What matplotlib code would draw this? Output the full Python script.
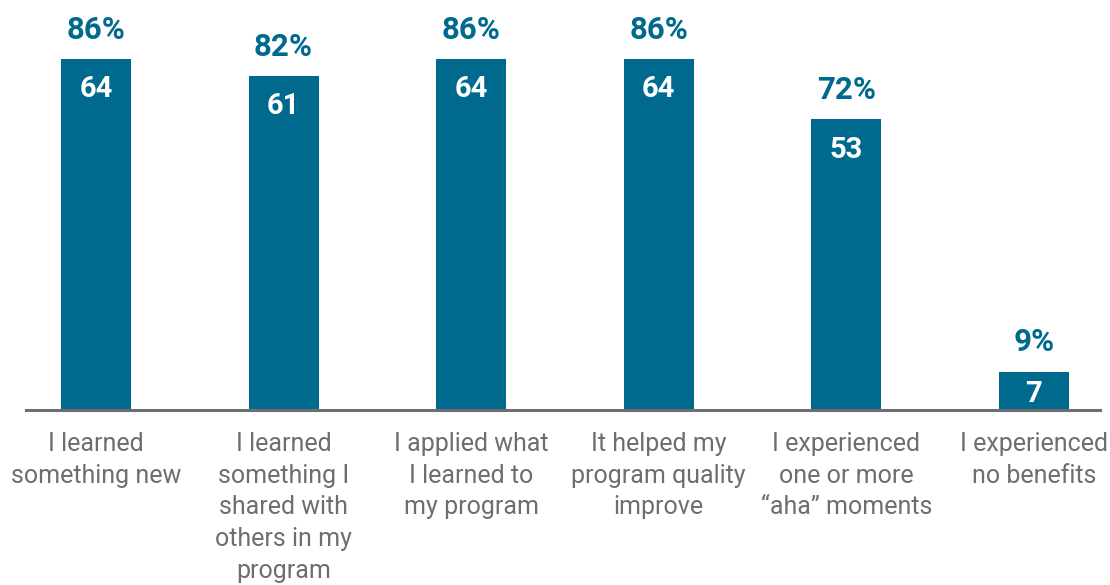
import matplotlib
matplotlib.use("Agg")
import matplotlib.pyplot as plt

plt.rcParams['font.family'] = ['Roboto', 'DejaVu Sans']

categories = [
    "I learned\nsomething new",
    "I learned\nsomething I\nshared with\nothers in my\nprogram",
    "I applied what\nI learned to\nmy program",
    "It helped my\nprogram quality\nimprove",
    "I experienced\none or more\n\u201caha\u201d moments",
    "I experienced\nno benefits",
]
counts = [64, 61, 64, 64, 53, 7]
percents = ["86%", "82%", "86%", "86%", "72%", "9%"]

bar_color = "#006a8e"
gray = "#6d6e71"

fig = plt.figure(figsize=(11.1, 5.85), dpi=100)
ax = fig.add_axes([26/1110, 1 - 410/585, (1100-26)/1110, 410/585])

x = list(range(len(categories)))
ax.bar(x, counts, width=0.373, color=bar_color, zorder=2)

ax.set_xlim(-0.373, 5.352)
ax.set_ylim(0, 74.8)

for xi, c, p in zip(x, counts, percents):
    ax.annotate(p, (xi, c), xytext=(0, 14.5), textcoords='offset points',
                ha='center', va='baseline', fontsize=22.5, fontweight='bold',
                color=bar_color)
    if c >= 15:
        ax.annotate(str(c), (xi, c), xytext=(0, -27.4), textcoords='offset points',
                    ha='center', va='baseline', fontsize=21, fontweight='bold',
                    color='white')
    else:
        ax.annotate(str(c), (xi, c / 2), xytext=(0, 0), textcoords='offset points',
                    ha='center', va='center_baseline', fontsize=21, fontweight='bold',
                    color='white')

ax.set_xticks(x)
ax.set_xticklabels(categories, fontsize=18, color=gray, linespacing=1.4)
ax.tick_params(axis='x', length=0, pad=16)
ax.set_yticks([])
for s in ['top', 'right', 'left']:
    ax.spines[s].set_visible(False)
ax.spines['bottom'].set_color(gray)
ax.spines['bottom'].set_linewidth(2.2)
ax.spines['bottom'].set_zorder(3)

fig.savefig("out.png", dpi=100)
